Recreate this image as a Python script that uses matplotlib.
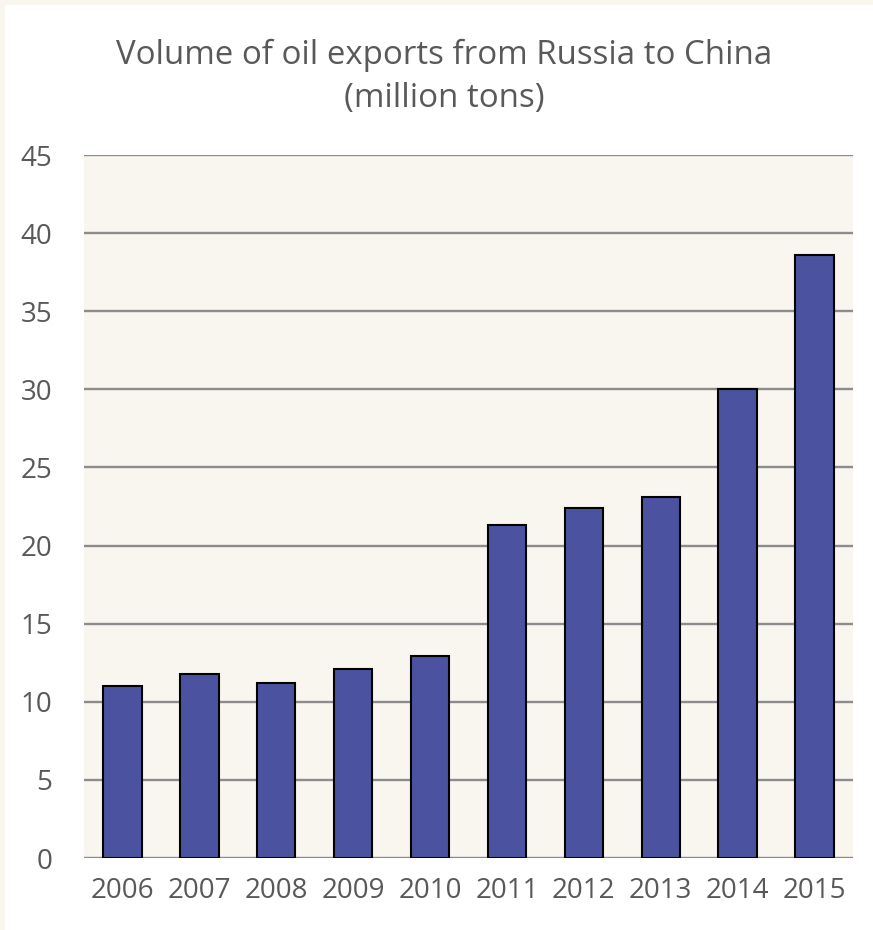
import matplotlib.pyplot as plt
from matplotlib.patches import Rectangle

years = ['2006', '2007', '2008', '2009', '2010', '2011', '2012', '2013', '2014', '2015']
volumes = [11.0, 11.8, 11.2, 12.1, 12.9, 21.3, 22.4, 23.1, 30.0, 38.6]

plt.rcParams['font.family'] = ['Open Sans', 'DejaVu Sans']
text_color = '#595959'
cream = '#F9F5EF'

fig = plt.figure(figsize=(8.73, 9.3), dpi=100)
fig.patch.set_facecolor(cream)
# white card inside a thin cream margin at top and left
fig.patches.append(Rectangle((5 / 873, 0), 1, 1 - 5 / 930, transform=fig.transFigure,
                             facecolor='white', edgecolor='none', zorder=-10))

ax = fig.add_axes([84 / 873, 1 - 858 / 930, (853 - 84) / 873, (858 - 155) / 930])
ax.set_facecolor(cream)

ax.bar(range(len(years)), volumes, width=0.5, color='#4B53A0',
       edgecolor='black', linewidth=1.5, zorder=3)

ax.set_xlim(-0.5, len(years) - 0.5)
ax.set_ylim(0, 45)
ax.set_yticks(range(0, 46, 5))
ax.set_xticks(range(len(years)))
ax.set_xticklabels(years)
ax.yaxis.grid(True, color='#8C8C8C', linewidth=1.7, zorder=0)
ax.set_axisbelow(True)
for s in ax.spines.values():
    s.set_visible(False)
ax.tick_params(axis='both', length=0, labelsize=20, labelcolor=text_color)
ax.tick_params(axis='y', pad=23)
ax.tick_params(axis='x', pad=14)

fig.text(444 / 873, 1 - 55 / 930, 'Volume of oil exports from Russia to China',
         ha='center', va='center', fontsize=23.8, color=text_color)
fig.text(444 / 873, 1 - 98 / 930, '(million tons)',
         ha='center', va='center', fontsize=23.8, color=text_color)

fig.savefig('out.png', dpi=100, facecolor=fig.get_facecolor())
